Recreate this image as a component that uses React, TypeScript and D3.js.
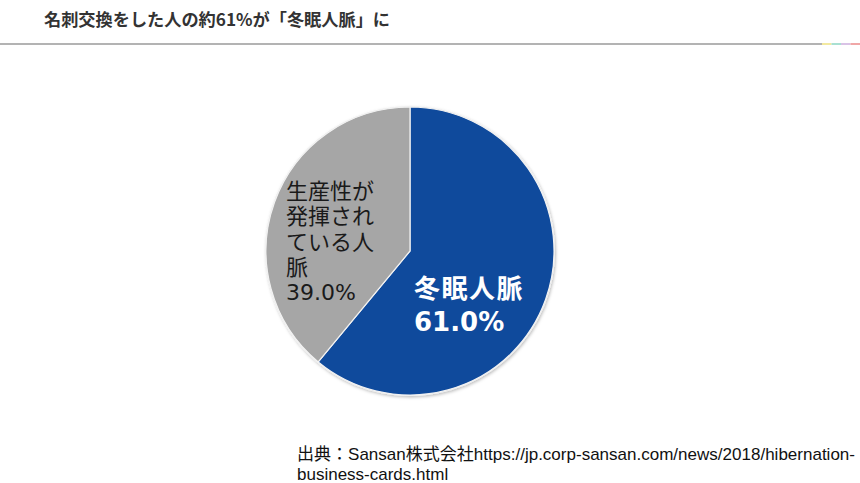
import React from "react";
import * as d3 from "d3";

const categories = ["冬眠人脈", "生産性が発揮されている人脈"];
const values = [61.0, 39.0];
const colors = ["#0f4a9c", "#a6a6a6"];
const title = "名刺交換をした人の約61%が「冬眠人脈」に";
const grayLabelLines = ["生産性が", "発揮され", "ている人", "脈", "39.0%"];
const blueLabelLines = ["冬眠人脈", "61.0%"];
const sourceLines = [
  "出典：Sansan株式会社https://jp.corp-sansan.com/news/2018/hibernation-",
  "business-cards.html",
];
const accentColors = ["#f3e9a0", "#a9e0d2", "#d9c3e6", "#f0a7a7"];

export default function App() {
  const W = 860, H = 483;
  const cx = 410, cy = 251, r = 144;
  const pie = d3.pie<number>().sort(null).value((d) => d)(values);
  const arc = d3.arc<d3.PieArcDatum<number>>().innerRadius(0).outerRadius(r);
  const font = "'Liberation Sans', Arial, 'Noto Sans CJK JP', sans-serif";
  const labelFont = "'DejaVu Sans', 'Noto Sans CJK JP', sans-serif";

  return (
    <svg width={W} height={H} style={{ position: "absolute", left: 0, top: 0, background: "#fff" }}
      fontFamily={font}>
      <defs>
        <filter id="sh" x="-10%" y="-10%" width="120%" height="120%">
          <feDropShadow dx="1" dy="1.5" stdDeviation="1.5" floodColor="#000" floodOpacity="0.25" />
        </filter>
      </defs>
      <text x={44} y={26} fontSize={17} fontWeight="bold" fill="#333"
        fontFamily="'Noto Sans CJK JP', sans-serif" textLength={346} lengthAdjust="spacingAndGlyphs">
        {title}
      </text>
      <rect x={0} y={43} width={822} height={2} fill="#b3b3b3" />
      {accentColors.map((c, i) => (
        <rect key={i} x={822 + i * 9.5} y={43} width={9.5} height={2} fill={c} />
      ))}
      <g transform={`translate(${cx},${cy})`}>
        <circle r={r + 1} fill="#eee" filter="url(#sh)" />
        {pie.map((p, i) => (
          <path key={categories[i]} d={arc(p) || ""} fill={colors[i]} stroke="#f2f2f2" strokeWidth={1.2} />
        ))}
      </g>
      <g fontFamily={labelFont} fontSize={22} fill="#1a1a1a">
        {grayLabelLines.map((t, i) => (
          <text key={i} x={286} y={199 + i * 25.3}>{t}</text>
        ))}
      </g>
      <g fontFamily={labelFont} fontSize={26} fontWeight="bold" fill="#fff">
        <text x={414} y={298} letterSpacing={1.5}>{blueLabelLines[0]}</text>
        <text x={414} y={331}>{blueLabelLines[1]}</text>
      </g>
      <g fontSize={17} fill="#111">
        <text x={297} y={460} textLength={558} lengthAdjust="spacingAndGlyphs">{sourceLines[0]}</text>
        <text x={297} y={480}>{sourceLines[1]}</text>
      </g>
    </svg>
  );
}
